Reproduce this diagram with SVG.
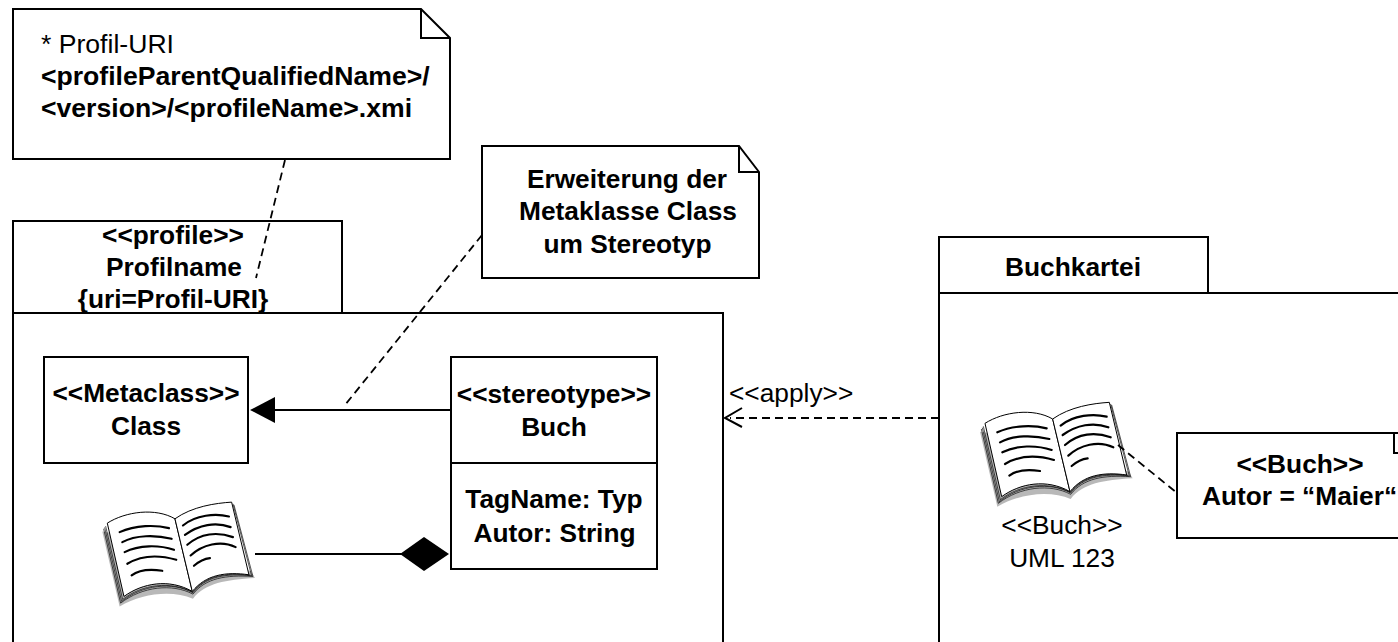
<svg xmlns="http://www.w3.org/2000/svg" width="1398" height="642" viewBox="0 0 1398 642">
<style>
.s{fill:#fff;stroke:#000;stroke-width:2}
.t{fill:none;stroke:#000;stroke-width:2}
.d{fill:none;stroke:#000;stroke-width:1.8;stroke-dasharray:8 5}
text{font-family:"Liberation Sans",Arial,sans-serif;font-size:26.3px;fill:#000}
.n{font-size:26.6px}
.b{font-weight:bold}
.m{text-anchor:middle}
.pg{fill:#fff;stroke:#000;stroke-width:3}
.ln{fill:none;stroke:#000;stroke-width:6.5;stroke-linecap:round}
.st{fill:none;stroke:#000;stroke-width:2}
</style>
<defs>
<g id="book">
<path d="M30,110 L82,335 C150,295 240,285 302,312 C340,265 400,255 488,250 L476,230 L300,150 Z" fill="#888" opacity=".6"/>
<path class="st" d="M34,102 L85,325 C150,275 240,265 302,298 C340,250 400,240 482,245 L425,30"/>
<path class="st" d="M37,98 L88,320 C150,270 240,260 302,294 C340,245 400,235 478,243 L422,27"/>
<path class="st" d="M40,94 L91,314 C150,268 235,258 301,292 C340,243 400,232 474,241"/>
<path class="pg" d="M45,85 C100,50 190,38 248,72 L300,290 C230,250 150,265 95,305 Z"/>
<path class="pg" d="M248,72 C300,35 370,25 418,22 L470,240 C400,230 340,240 300,290 Z"/>
<path class="ln" d="M82,112C130,90 190,90 230,100M90,142C130,120 190,120 238,132M97,172C140,150 200,150 245,165M105,207C150,180 200,180 252,195M118,242C140,225 170,222 210,228M272,92C310,60 370,55 410,65M278,120C320,90 370,80 415,97M285,150C325,115 375,110 422,127M295,182C330,150 385,135 430,157M305,213C320,200 335,192 353,190"/>
</g>
</defs>
<g id="profile-package">
<rect class="s" x="13" y="221" width="329" height="92"/>
<rect class="s" x="13" y="313" width="710" height="340"/>
<text class="b m" x="173" y="244">&lt;&lt;profile&gt;&gt;</text>
<text class="b m" x="174" y="276">Profilname</text>
<text class="b m" x="173" y="308">{uri=Profil-URI}</text>
</g>
<g id="buchkartei-package">
<rect class="s" x="939" y="237" width="269" height="56"/>
<rect class="s" x="939" y="293" width="470" height="360"/>
<text class="b m" x="1073" y="276">Buchkartei</text>
</g>
<g id="note-uri">
<path class="s" d="M13,9H421L450,38V159H13Z"/>
<path class="t" d="M421,9V38H450"/>
<text class="n" x="41" y="53">* Profil-URI</text>
<text class="b n" x="41" y="85">&lt;profileParentQualifiedName&gt;/</text>
<text class="b n" x="41" y="117">&lt;version&gt;/&lt;profileName&gt;.xmi</text>
</g>
<g id="note-erweiterung">
<path class="s" d="M482,146H739L759,172V278H482Z"/>
<path class="t" d="M739,146V172H759"/>
<text class="b m" x="627" y="188">Erweiterung der</text>
<text class="b m" x="628" y="220">Metaklasse Class</text>
<text class="b m" x="627.5" y="253">um Stereotyp</text>
</g>
<g id="metaclass">
<rect class="s" x="44" y="357" width="204" height="106"/>
<text class="b m" x="146" y="402">&lt;&lt;Metaclass&gt;&gt;</text>
<text class="b m" x="146" y="435">Class</text>
</g>
<g id="stereotype">
<rect class="s" x="451" y="357" width="206" height="212"/>
<path class="t" d="M451,463H657"/>
<text class="b m" x="554" y="403">&lt;&lt;stereotype&gt;&gt;</text>
<text class="b m" x="554" y="436">Buch</text>
<text class="b m" x="554" y="508">TagName: Typ</text>
<text class="b m" x="554.5" y="542">Autor: String</text>
</g>
<g id="book-icon">
<use href="#book" transform="translate(92.3,494.8) scale(.3333)"/>
</g>
<g id="book-instance">
<use href="#book" transform="translate(970,395) scale(.3333)"/>
<text class="m" x="1062" y="534">&lt;&lt;Buch&gt;&gt;</text>
<text class="m" x="1062" y="567">UML 123</text>
</g>
<g id="note-autor">
<path class="s" d="M1177,433H1410V538H1177Z"/>
<path class="t" d="M1394,433V453H1400"/>
<text class="b m" x="1300" y="473">&lt;&lt;Buch&gt;&gt;</text>
<text class="b" x="1202" y="505">Autor = “Maier“</text>
</g>
<g id="connectors">
<path class="d" d="M285,160L256,278"/>
<path class="d" d="M482,235L345,405"/>
<path class="d" d="M1118,445L1177,493"/>
<path class="d" d="M939,418H730"/>
<path class="t" d="M742,408L725,418L742,427"/>
<path class="t" d="M451,410H270"/>
<path d="M250,410L275,397V423Z"/>
<path class="t" d="M255,554H405"/>
<path d="M400,554L424,537L449,554L424,571Z"/>
<text x="729" y="402">&lt;&lt;apply&gt;&gt;</text>
</g>
</svg>
